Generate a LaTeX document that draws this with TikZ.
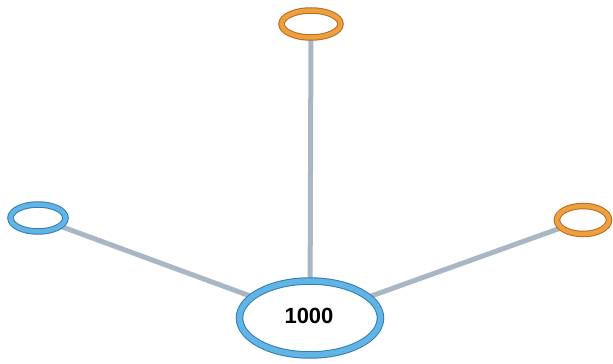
\documentclass[tikz,border=0pt]{standalone}
\usepackage{fontspec}
\setmainfont{Liberation Sans}
\usetikzlibrary{shapes.geometric}
\pgfdeclarelayer{bg}
\pgfsetlayers{bg,main}
\definecolor{bluedark}{HTML}{2F7DB5}
\definecolor{bluemid}{HTML}{62B4E4}
\definecolor{orangedark}{HTML}{B86A1C}
\definecolor{orangemid}{HTML}{EDA040}
\definecolor{linkgray}{HTML}{A9B7C5}
\tikzset{
  ringbase/.style={ellipse, inner sep=0pt, fill=white, line width=1pt},
  bluering/.style={ringbase, draw=bluedark, double=bluemid},
  orangering/.style={ringbase, draw=orangedark, double=orangemid},
  link/.style={draw=linkgray, line width=5pt}
}
\begin{document}
\begin{tikzpicture}[x=1pt,y=1pt]
\useasboundingbox (0,0) rectangle (613,364);
\node[bluering, double distance=5.5pt, minimum width=141pt, minimum height=74pt] (center) at (310,46) {};
\node[font=\bfseries\fontsize{22}{26}\selectfont] (label) at (309,48) {1000};
\node[orangering, double distance=4.5pt, minimum width=59pt, minimum height=27pt] (top) at (311,340) {};
\node[bluering, double distance=4.5pt, minimum width=55pt, minimum height=27pt] (left) at (38,146) {};
\node[orangering, double distance=4.5pt, minimum width=52pt, minimum height=28pt] (right) at (583,144) {};
\begin{pgfonlayer}{bg}
\draw[link] (center.center) -- (top.center);
\draw[link] (center.center) -- (left.center);
\draw[link] (center.center) -- (right.center);
\end{pgfonlayer}
\end{tikzpicture}
\end{document}
